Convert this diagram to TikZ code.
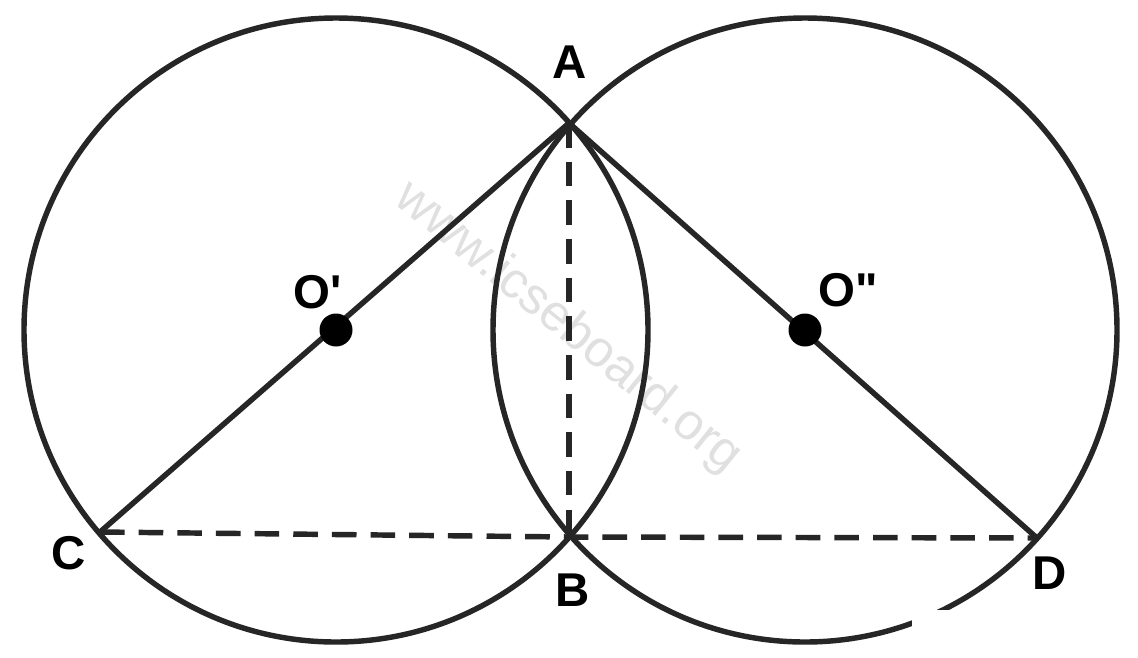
\documentclass[tikz,border=0pt]{standalone}
\usepackage{fontspec}
\setmainfont{Liberation Sans}
\newfontfamily\rawf{Liberation Sans}[Ligatures=TeXOff]
\begin{document}
\begin{tikzpicture}[x=0.02cm,y=-0.02cm,
  ln/.style={line width=3.1pt,draw=black!85},
  dsh/.style={ln,dash pattern=on 14pt off 8pt},
  lbl/.style={font=\fontsize{27}{30}\selectfont\bfseries},
  dot/.style={circle,fill=black,inner sep=0pt,minimum size=0.66cm}]
\useasboundingbox (0,0) rectangle (1138,657);
\fill[white] (0,0) rectangle (1138,657);
\node[rotate=-39,text=black!12,font=\fontsize{29}{31}\selectfont] (w) at (568,328) {www.icseboard.org};
\coordinate (O1) at (336,330);
\coordinate (O2) at (805,330);
\coordinate (A) at (569,123);
\coordinate (B) at (569,537);
\coordinate (C) at (100,532);
\coordinate (D) at (1037,538);
\draw[ln] (O1) circle (312);
\draw[ln] (O2) circle (312);
\draw[ln] (C) -- (A) -- (D);
\draw[dsh] (A) -- (B);
\draw[dsh] (C) -- (B) -- (D);
\node[dot] (d1) at (O1) {};
\node[dot] (d2) at (O2) {};
\fill[white] (912,610) rectangle (1138,657);
\node[lbl] (la) at (570,62) {A};
\node[lbl] (lb) at (573,590) {B};
\node[lbl] (lc) at (69,553) {C};
\node[lbl] (ld) at (1050,573) {D};
\node[lbl] (lo1) at (318,292) {O{\rawf\bfseries '}};
\node[lbl] (lo2) at (848,290) {O{\rawf\bfseries "}};
\end{tikzpicture}
\end{document}
